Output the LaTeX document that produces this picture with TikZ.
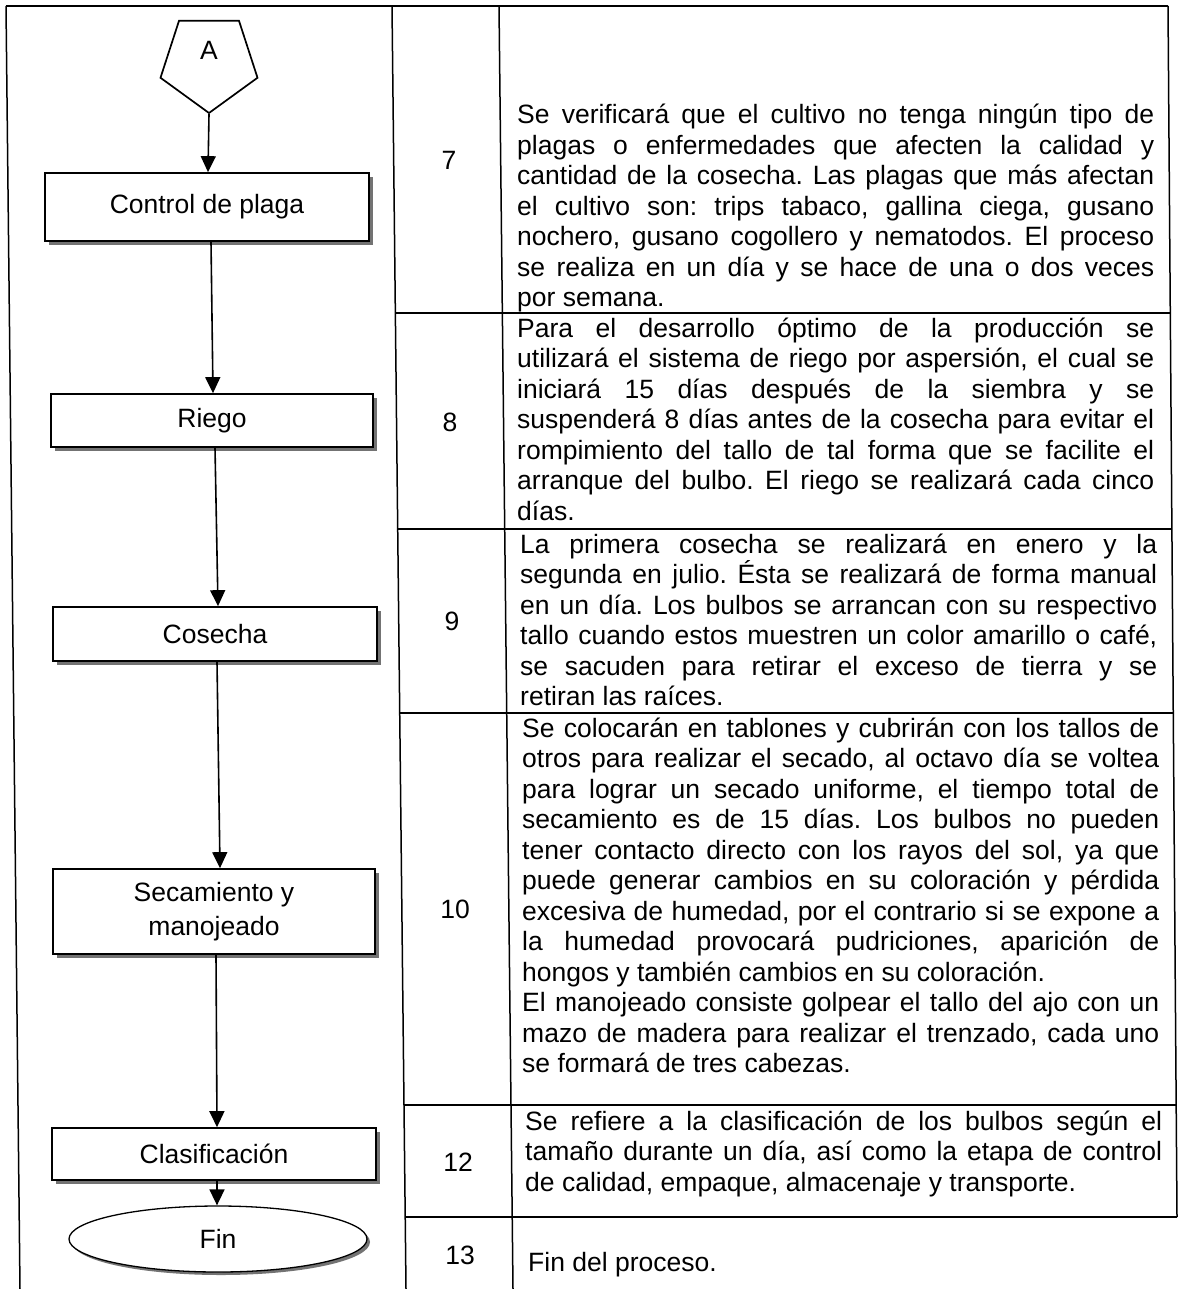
\documentclass[tikz,border=0pt]{standalone}
\usepackage{fontspec}
\setmainfont{Liberation Sans}
\usetikzlibrary{arrows.meta,shapes.geometric}

% body text size and line pitch of the description column
\newcommand\txtsize{\fontsize{26.5}{30.5}\selectfont\frenchspacing}
\newlength\colw
\setlength\colw{637pt}
% one fully justified line of a description
\newcommand\jl[1]{\makebox[\colw][s]{#1}\\}

\begin{document}
\begin{tikzpicture}[
  x=1pt, y=-1pt,
  rule/.style={line width=1.5pt},
  stepbox/.style={draw, line width=1.7pt, fill=white, inner sep=0pt,
    font=\txtsize, align=center,
    preaction={fill=black!55, transform canvas={xshift=4pt, yshift=-4pt}}},
  endbox/.style={draw, ellipse, line width=1.3pt, fill=white, inner sep=0pt,
    font=\txtsize,
    preaction={fill=black!55, transform canvas={xshift=3pt, yshift=-3pt}}},
  connbox/.style={draw, regular polygon, regular polygon sides=5,
    shape border rotate=180, line width=1.7pt, inner sep=0pt,
    minimum size=102pt},
  conn/.style={line width=1.6pt, -{Triangle[width=15pt,length=16pt]}},
  desc/.style={anchor=base west, inner sep=0pt, text width=\colw,
    align=justify, font=\txtsize},
  num/.style={anchor=center, inner sep=0pt, font=\txtsize},
]
\fill[white] (0,0) rectangle (1177,1289);
\useasboundingbox (0,0) rectangle (1177,1289);

% ---- table frame ----
\draw[rule] (6,6) -- (1168,6);
\draw[rule] (6,6) -- (20,1289);
\draw[rule] (392,6) -- (406,1289);
\draw[rule] (499,6) -- (513,1289);
\draw[rule] (1168,6) -- (1177,1217);
\draw[rule] (395.3,313) -- (1170.3,313);
\draw[rule] (397.7,529) -- (1171.9,529);
\draw[rule] (399.7,713) -- (1173.3,713);
\draw[rule] (404.0,1105) -- (1176.2,1105);
\draw[rule] (405.2,1217) -- (1177,1217);

% ---- flow chart ----
\node[connbox, label={[name=alabel, font=\txtsize, yshift=12pt]center:A}]
  (start) at (209,62) {};
\node[stepbox, minimum width=324pt, minimum height=68pt] (plaga) at (207,207) {Control de plaga};
\node[stepbox, minimum width=322pt, minimum height=53pt] (riego) at (212,420.5) {Riego};
\node[stepbox, minimum width=324pt, minimum height=54pt] (cosecha) at (215,634) {Cosecha};
\node[stepbox, minimum width=322pt, minimum height=85pt,
  font=\fontsize{26.5}{34}\selectfont] (secado) at (214,911.5) {Secamiento y\\manojeado};
\node[stepbox, minimum width=324pt, minimum height=52pt] (clasif) at (214,1154) {Clasificación};
\node[endbox, minimum width=298pt, minimum height=66pt] (fin) at (218,1239) {Fin};

\draw[conn] (start.south) -- ([xshift=1pt]plaga.north);
\draw[conn] ([xshift=4pt]plaga.south) -- ([xshift=1pt]riego.north);
\draw[conn] ([xshift=3pt]riego.south) -- ([xshift=3pt]cosecha.north);
\draw[conn] ([xshift=2pt]cosecha.south) -- ([xshift=6pt]secado.north);
\draw[conn] ([xshift=2pt]secado.south) -- ([xshift=3pt]clasif.north);
\draw[conn] ([xshift=3pt]clasif.south) -- ([xshift=-1pt]fin.north);

% ---- step numbers ----
\node[num] (n7) at (449,160) {7};
\node[num] (n8) at (450,422) {8};
\node[num] (n9) at (452,621) {9};
\node[num] (n10) at (455,909) {10};
\node[num] (n12) at (458,1162) {12};
\node[num] (n13) at (460,1255) {13};

% ---- descriptions ----
\node[desc] (d7) at (517,124) {%
\jl{Se verificará que el cultivo no tenga ningún tipo de}
\jl{plagas o enfermedades que afecten la calidad y}
\jl{cantidad de la cosecha. Las plagas que más afectan}
\jl{el cultivo son: trips tabaco, gallina ciega, gusano}
\jl{nochero, gusano cogollero y nematodos. El proceso}
\jl{se realiza en un día y se hace de una o dos veces}
por semana.};

\node[desc] (d8) at (517,337) {%
\jl{Para el desarrollo óptimo de la producción se}
\jl{utilizará el sistema de riego por aspersión, el cual se}
\jl{iniciará 15 días después de la siembra y se}
\jl{suspenderá 8 días antes de la cosecha para evitar el}
\jl{rompimiento del tallo de tal forma que se facilite el}
\jl{arranque del bulbo. El riego se realizará cada cinco}
días.};

\node[desc] (d9) at (520,553) {%
\jl{La primera cosecha se realizará en enero y la}
\jl{segunda en julio. Ésta se realizará de forma manual}
\jl{en un día. Los bulbos se arrancan con su respectivo}
\jl{tallo cuando estos muestren un color amarillo o café,}
\jl{se sacuden para retirar el exceso de tierra y se}
retiran las raíces.};

\node[desc] (d10) at (522,737) {%
\jl{Se colocarán en tablones y cubrirán con los tallos de}
\jl{otros para realizar el secado, al octavo día se voltea}
\jl{para lograr un secado uniforme, el tiempo total de}
\jl{secamiento es de 15 días. Los bulbos no pueden}
\jl{tener contacto directo con los rayos del sol, ya que}
\jl{puede generar cambios en su coloración y pérdida}
\jl{excesiva de humedad, por el contrario si se expone a}
\jl{la humedad provocará pudriciones, aparición de}
hongos y también cambios en su coloración.\\
\jl{El manojeado consiste golpear el tallo del ajo con un}
\jl{mazo de madera para realizar el trenzado, cada uno}
se formará de tres cabezas.};

\node[desc] (d12) at (525,1130) {%
\jl{Se refiere a la clasificación de los bulbos según el}
\jl{tamaño durante un día, así como la etapa de control}
de calidad, empaque, almacenaje y transporte.};

\node[desc] (d13) at (528,1271) {Fin del proceso.};
\end{tikzpicture}
\end{document}
